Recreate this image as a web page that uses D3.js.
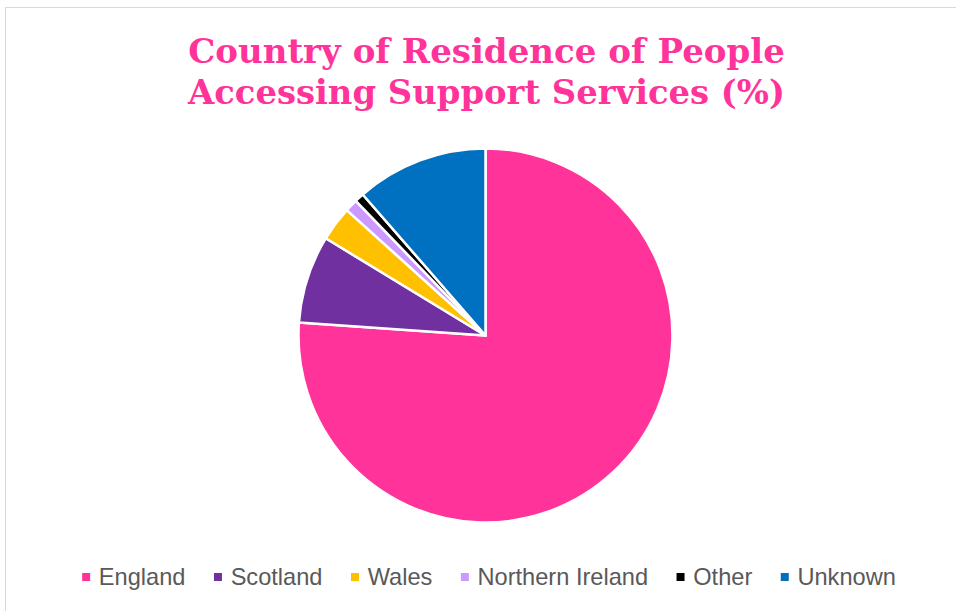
<!DOCTYPE html>
<html>
<head>
<meta charset="utf-8">
<script src="https://cdn.jsdelivr.net/npm/d3@7/dist/d3.min.js"></script>
<style>
  html, body { margin: 0; padding: 0; background: #ffffff; }
  svg { display: block; }
</style>
</head>
<body>
<svg id="chart" width="956" height="611"></svg>
<script>
// Share of people accessing support services, by country of residence (%)
const categories = ["England", "Scotland", "Wales", "Northern Ireland", "Other", "Unknown"];
const values = [76.1, 7.6, 3.0, 1.1, 0.8, 11.4];
const colors = ["#FF3399", "#7030A0", "#FFC000", "#CC99FF", "#000000", "#0070C0"];
const titleLines = ["Country of Residence of People", "Accessing Support Services (%)"];

const W = 956, H = 611;
const svg = d3.select("#chart");

// chart area frame
svg.append("rect")
  .attr("x", 5.5).attr("y", 7.5)
  .attr("width", W + 10).attr("height", H + 10)
  .attr("fill", "#ffffff")
  .attr("stroke", "#d9d9d9").attr("stroke-width", 1);

// title
const title = svg.append("g")
  .attr("font-family", "'DejaVu Serif', Georgia, serif")
  .attr("font-weight", "bold")
  .attr("fill", "#FF3399")
  .attr("text-anchor", "middle");
const titleBaselines = [63, 104];
titleLines.forEach((t, i) => {
  title.append("text")
    .attr("x", 486.5).attr("y", titleBaselines[i])
    .attr("font-size", 31)
    .text(t);
});
// fit the title lines to their width
title.selectAll("text").each(function () {
  const w = this.getComputedTextLength();
  const target = 597;
  d3.select(this).attr("font-size", 31 * target / w);
});

// pie
const cx = 485.5, cy = 335.5, R = 187;
const pie = d3.pie().sort(null).value(d => d.value)
  .startAngle(0).endAngle(2 * Math.PI);
const arc = d3.arc().innerRadius(0).outerRadius(R);
const data = categories.map((c, i) => ({ name: c, value: values[i], color: colors[i] }));

svg.append("g")
  .attr("transform", `translate(${cx},${cy})`)
  .selectAll("path")
  .data(pie(data))
  .join("path")
  .attr("d", arc)
  .attr("fill", d => d.data.color)
  .attr("stroke", "#ffffff")
  .attr("stroke-width", 2.5)
  .attr("stroke-linejoin", "round");

// legend
const legend = svg.append("g")
  .attr("font-family", "'Liberation Sans', Arial, sans-serif")
  .attr("font-size", 23.6)
  .attr("fill", "#595959");
const items = legend.selectAll("g")
  .data(data)
  .join("g");
items.append("rect")
  .attr("width", 8).attr("height", 8)
  .attr("y", -11.5)
  .attr("fill", d => d.color);
items.append("text")
  .attr("x", 16.7)
  .attr("y", 0)
  .text(d => d.name);
// lay items out in a centered row
const gap = 28.5;
const widths = [];
items.each(function () {
  widths.push(16.7 + d3.select(this).select("text").node().getComputedTextLength());
});
const total = d3.sum(widths) + gap * (widths.length - 1);
let x = 489 - total / 2;
items.each(function (d, i) {
  d3.select(this).attr("transform", `translate(${x},584.5)`);
  x += widths[i] + gap;
});
</script>
</body>
</html>
